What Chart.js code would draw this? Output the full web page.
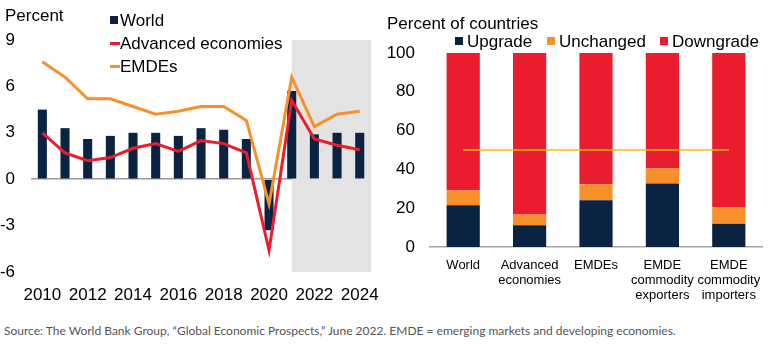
<!DOCTYPE html>
<html>
<head>
<meta charset="utf-8">
<script src="https://cdn.jsdelivr.net/npm/chart.js@4"></script>
<style>
  body { margin: 0; background: #fff; font-family: "Liberation Sans", Arial, sans-serif; }
  #wrap { position: relative; width: 768px; height: 345px; overflow: hidden; }
  .cv { position: absolute; top: 0; }
  .txt { position: absolute; font-size: 17px; color: #000; white-space: nowrap; line-height: 1; }
  .sq { position: absolute; width: 8px; height: 8px; }
  .ln { position: absolute; width: 10px; height: 3px; }
  #source { position: absolute; left: 4px; top: 323px; font-family: Lato, "Open Sans", sans-serif; font-size: 12px; color: #555; white-space: nowrap; }
</style>
</head>
<body>
<div id="wrap">
  <div class="cv" style="left:0;width:384px;height:310px"><canvas id="growthChart"></canvas></div>
  <div class="cv" style="left:384px;width:384px;height:310px"><canvas id="revisionChart"></canvas></div>

  <!-- panel izquierdo -->
  <div class="txt" style="left:5px;top:7px">Percent</div>
  <div class="sq" style="left:110px;top:16px;background:#0B2343"></div>
  <div class="txt" style="left:120px;top:12px">World</div>
  <div class="ln" style="left:110px;top:42px;background:#E91D2D"></div>
  <div class="txt" style="left:120px;top:35px">Advanced economies</div>
  <div class="ln" style="left:110px;top:65px;background:#F7902A"></div>
  <div class="txt" style="left:120px;top:58px">EMDEs</div>

  <!-- panel derecho -->
  <div class="txt" style="left:387px;top:15px">Percent of countries</div>
  <div class="sq" style="left:455px;top:37px;background:#0B2343"></div>
  <div class="txt" style="left:467px;top:33px">Upgrade</div>
  <div class="sq" style="left:547px;top:37px;background:#F7902A"></div>
  <div class="txt" style="left:559px;top:33px">Unchanged</div>
  <div class="sq" style="left:660px;top:37px;background:#E91D2D"></div>
  <div class="txt" style="left:672px;top:33px">Downgrade</div>

  <div id="source">Source: The World Bank Group, “Global Economic Prospects,” June 2022. EMDE = emerging markets and developing economies.</div>
</div>

<script>
// Datos del panel izquierdo (crecimiento, %)
const years = ['2010','2011','2012','2013','2014','2015','2016','2017','2018','2019','2020','2021','2022','2023','2024'];
const worldGrowth    = [4.5, 3.3, 2.6, 2.8, 3.0, 3.0, 2.8, 3.3, 3.2, 2.6, -3.3, 5.7, 2.9, 3.0, 3.0];
const advancedGrowth = [3.0, 1.7, 1.2, 1.4, 2.0, 2.3, 1.8, 2.5, 2.3, 1.7, -4.6, 5.1, 2.6, 2.2, 1.9];
const emdeGrowth     = [7.6, 6.6, 5.2, 5.2, 4.7, 4.2, 4.4, 4.7, 4.7, 3.8, -1.6, 6.6, 3.4, 4.2, 4.4];
const growthTicks = [-6, -3, 0, 3, 6, 9];
const forecastStart = '2021';
const forecastEnd = '2024';

// Datos del panel derecho (% de paises)
const groups = ['World', ['Advanced', 'economies'], 'EMDEs', ['EMDE', 'commodity', 'exporters'], ['EMDE', 'commodity', 'importers']];
const upgrade   = [21.5, 11.2, 24.1, 32.7, 12.0];
const unchanged = [7.6, 5.5, 8.3, 7.9, 8.5];
const downgrade = [70.9, 83.3, 67.6, 59.4, 79.5];
const halfLine  = [50, 50, 50, 50, 50];
const shareTicks = [0, 20, 40, 60, 80, 100];

const NAVY = '#0B2343', RED = '#E91D2D', ORANGE = '#F7902A', YELLOW = '#FFB81C';
const FONT = { family: '"Liberation Sans", Arial, sans-serif', size: 17 };

Chart.defaults.animation = false;
Chart.defaults.color = '#000';

// Sombreado de las proyecciones
const forecastBand = {
    id: 'forecastBand',
    beforeDatasetsDraw(chart) {
        const { ctx, chartArea, scales } = chart;
        const x = scales.x;
        const half = (x.getPixelForValue(1) - x.getPixelForValue(0)) / 2;
        const x0 = x.getPixelForValue(years.indexOf(forecastStart));
        const x1 = x.getPixelForValue(years.indexOf(forecastEnd)) + half;
        ctx.save();
        ctx.fillStyle = '#E3E3E3';
        ctx.fillRect(x0, chartArea.top, x1 - x0, chartArea.bottom - chartArea.top);
        ctx.restore();
    }
};

new Chart(document.getElementById('growthChart'), {
    type: 'bar',
    data: {
        labels: years,
        datasets: [
            { type: 'line', label: 'Advanced economies', data: advancedGrowth, borderColor: RED, borderWidth: 3, pointRadius: 0, tension: 0, order: 0 },
            { type: 'line', label: 'EMDEs', data: emdeGrowth, borderColor: ORANGE, borderWidth: 3, pointRadius: 0, tension: 0, order: 1 },
            { label: 'World', data: worldGrowth, backgroundColor: NAVY, barPercentage: 0.4, categoryPercentage: 1, order: 2 }
        ]
    },
    options: {
        responsive: true,
        maintainAspectRatio: false,
        layout: { padding: { top: 40, right: 11, left: 0, bottom: 0 } },
        plugins: { legend: { display: false }, tooltip: { enabled: false } },
        scales: {
            x: {
                grid: { display: false },
                border: { display: false },
                ticks: {
                    font: FONT, autoSkip: false, maxRotation: 0, padding: 5,
                    callback: (v, i) => (i % 2 === 0 ? years[i] : '')
                },
                afterFit: (s) => { s.height = 38; }
            },
            y: {
                min: -6, max: 9,
                afterBuildTicks: (s) => { s.ticks = growthTicks.map(v => ({ value: v })); },
                grid: { drawTicks: false, color: (c) => (c.tick && c.tick.value === 0 ? '#9A9A9A' : 'transparent'), lineWidth: 1.5 },
                border: { display: false },
                ticks: { font: FONT, padding: 16 },
                afterFit: (s) => { s.width = 31; }
            }
        }
    },
    plugins: [forecastBand]
});

new Chart(document.getElementById('revisionChart'), {
    type: 'bar',
    data: {
        labels: groups,
        datasets: [
            { type: 'line', label: '50', data: halfLine, borderColor: YELLOW, borderWidth: 1.5, pointRadius: 0, order: 0 },
            { label: 'Upgrade', data: upgrade, backgroundColor: NAVY, order: 1 },
            { label: 'Unchanged', data: unchanged, backgroundColor: ORANGE, order: 1 },
            { label: 'Downgrade', data: downgrade, backgroundColor: RED, order: 1 }
        ]
    },
    options: {
        responsive: true,
        maintainAspectRatio: false,
        layout: { padding: { top: 53, right: 6, left: 0, bottom: 0 } },
        datasets: { bar: { barPercentage: 0.5, categoryPercentage: 1 } },
        plugins: { legend: { display: false }, tooltip: { enabled: false } },
        scales: {
            x: {
                stacked: true,
                grid: { display: false },
                border: { display: true, color: '#A6A6A6', width: 1.5 },
                ticks: { font: { family: FONT.family, size: 13, lineHeight: 1.15 }, autoSkip: false, maxRotation: 0, padding: 3 },
                afterFit: (s) => { s.height = 63; }
            },
            y: {
                stacked: true,
                min: 0, max: 100,
                afterBuildTicks: (s) => { s.ticks = shareTicks.map(v => ({ value: v })); },
                grid: { display: false, drawTicks: false },
                border: { display: false },
                ticks: { font: FONT, padding: 15 },
                afterFit: (s) => { s.width = 46; }
            }
        }
    }
});
</script>
</body>
</html>
